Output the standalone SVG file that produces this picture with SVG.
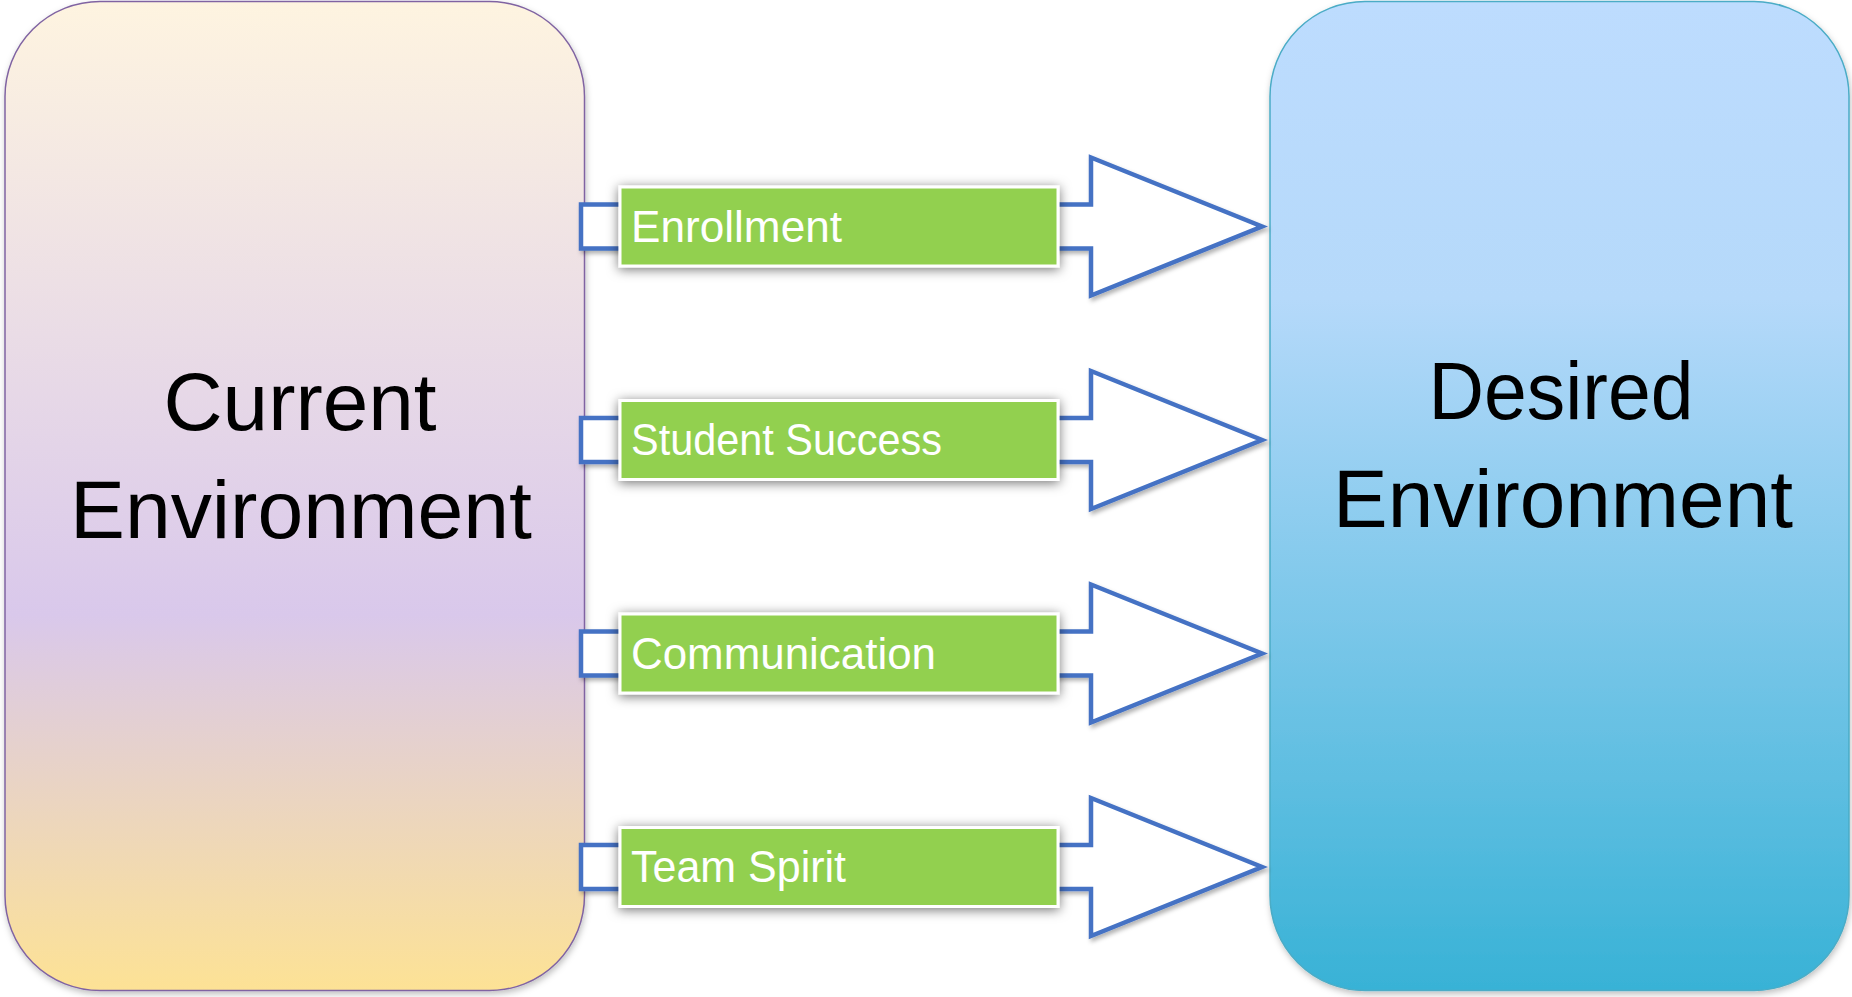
<svg xmlns="http://www.w3.org/2000/svg" width="1852" height="997" viewBox="0 0 1852 997">
  <defs>
    <linearGradient id="gradCurrent" x1="0" y1="0" x2="0" y2="1">
      <stop offset="0" stop-color="#FEF4E0"/>
      <stop offset="0.62" stop-color="#D9C8EB"/>
      <stop offset="1" stop-color="#FDE295"/>
    </linearGradient>
    <linearGradient id="gradDesired" x1="0" y1="0" x2="0" y2="1">
      <stop offset="0" stop-color="#BDDCFE"/>
      <stop offset="0.3" stop-color="#B5D9FA"/>
      <stop offset="1" stop-color="#38B2D6"/>
    </linearGradient>
    <filter id="bigShadow" x="-5%" y="-5%" width="110%" height="110%">
      <feDropShadow dx="1" dy="3" stdDeviation="3" flood-color="#000" flood-opacity="0.25"/>
    </filter>
    <filter id="arrowShadow" x="-5%" y="-10%" width="110%" height="125%">
      <feDropShadow dx="2" dy="3" stdDeviation="2" flood-color="#000" flood-opacity="0.3"/>
    </filter>
    <filter id="boxShadow" x="-10%" y="-40%" width="120%" height="180%">
      <feDropShadow dx="0" dy="2" stdDeviation="6" flood-color="#000" flood-opacity="0.55"/>
    </filter>
  </defs>
  <style>
    .big { font-family: "Liberation Sans", Arial, sans-serif; font-size: 82px; fill: #000; text-anchor: middle; }
    .lbl { font-family: "Liberation Sans", Arial, sans-serif; font-size: 44px; fill: #FFFFFF; }
    .arrow { fill: #FFFFFF; stroke: #4472C4; stroke-width: 4.5; stroke-linejoin: miter; filter: url(#arrowShadow); }
    .gbox { fill: #92D050; stroke: #FFFFFF; stroke-width: 3; filter: url(#boxShadow); }
  </style>
  <rect width="1852" height="997" fill="#FFFFFF"/>

  <g id="current-environment">
    <rect x="5" y="1.5" width="579.5" height="989" rx="95" ry="95" fill="url(#gradCurrent)" stroke="#8064A2" stroke-width="1.5" filter="url(#bigShadow)"/>
    <text class="big" x="300" y="430" textLength="273" lengthAdjust="spacingAndGlyphs">Current</text>
    <text class="big" x="301" y="538" textLength="462" lengthAdjust="spacingAndGlyphs">Environment</text>
  </g>

  <g id="desired-environment">
    <rect x="1270" y="1.5" width="579" height="989" rx="95" ry="95" fill="url(#gradDesired)" stroke="#4BACC6" stroke-width="1.5" filter="url(#bigShadow)"/>
    <text class="big" x="1561" y="418.5" textLength="265" lengthAdjust="spacingAndGlyphs">Desired</text>
    <text class="big" x="1563" y="527" textLength="460" lengthAdjust="spacingAndGlyphs">Environment</text>
  </g>

  <g id="connectors">
    <polygon class="arrow" points="581,204.5 1091,204.5 1091,157.5 1262,226.5 1091,295.5 1091,248.5 581,248.5"/>
    <polygon class="arrow" points="581,418 1091,418 1091,371 1262,440 1091,509 1091,462 581,462"/>
    <polygon class="arrow" points="581,631.5 1091,631.5 1091,584.5 1262,653.5 1091,722.5 1091,675.5 581,675.5"/>
    <polygon class="arrow" points="581,845 1091,845 1091,798 1262,867 1091,936 1091,889 581,889"/>
  </g>

  <g id="enrollment">
    <rect class="gbox" x="620" y="187" width="438" height="79"/>
    <text class="lbl" x="631" y="241.5" textLength="211" lengthAdjust="spacingAndGlyphs">Enrollment</text>
  </g>
  <g id="student-success">
    <rect class="gbox" x="620" y="400.5" width="438" height="79"/>
    <text class="lbl" x="631" y="455" textLength="311" lengthAdjust="spacingAndGlyphs">Student Success</text>
  </g>
  <g id="communication">
    <rect class="gbox" x="620" y="614" width="438" height="79"/>
    <text class="lbl" x="631" y="668.5" textLength="305" lengthAdjust="spacingAndGlyphs">Communication</text>
  </g>
  <g id="team-spirit">
    <rect class="gbox" x="620" y="827.5" width="438" height="79"/>
    <text class="lbl" x="631" y="882" textLength="215" lengthAdjust="spacingAndGlyphs">Team Spirit</text>
  </g>
</svg>
